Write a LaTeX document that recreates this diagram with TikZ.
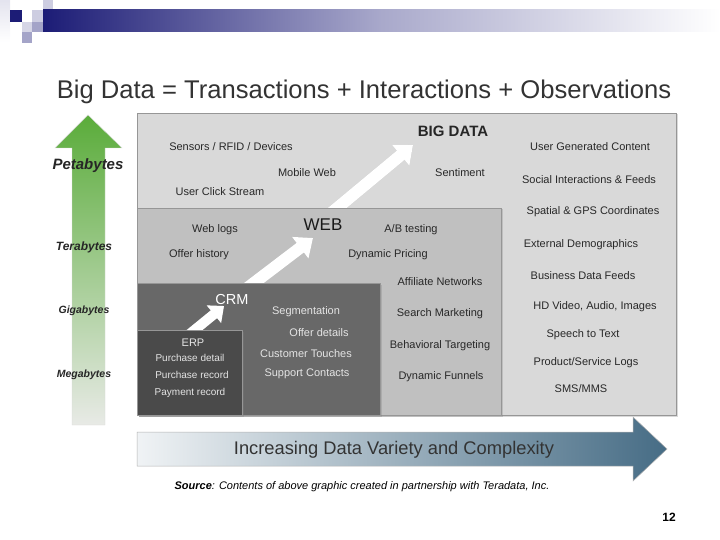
\documentclass[tikz,border=0pt]{standalone}
\usepackage{fontspec}
\setmainfont{Liberation Sans}
\usepackage{tikz}
\usetikzlibrary{arrows.meta, positioning, shadows}
\definecolor{bannerblue}{RGB}{28, 28, 118}
\definecolor{bigdata}{RGB}{217, 217, 217}
\definecolor{weblayer}{RGB}{192, 192, 192}
\definecolor{crmlayer}{RGB}{104, 104, 104}
\definecolor{erplayer}{RGB}{74, 74, 74}
\definecolor{boxedge}{RGB}{150, 150, 150}
\definecolor{darktext}{RGB}{40, 40, 40}
\definecolor{lighttext}{RGB}{228, 228, 228}
\definecolor{leafgreen}{RGB}{90, 172, 58}
\definecolor{palegray}{RGB}{232, 234, 230}
\definecolor{steelblue}{RGB}{70, 108, 133}
\definecolor{palesteel}{RGB}{240, 243, 245}

\begin{document}
\begin{tikzpicture}[
    x=1pt, y=-1pt,
    lbl/.style={font=\fontsize{11}{13}\selectfont, text=darktext, inner sep=0pt},
    lbllight/.style={lbl, text=lighttext},
    erplbl/.style={lbl, font=\fontsize{10}{12}\selectfont, text=lighttext},
    sizelbl/.style={font=\bfseries\itshape, text=black!85, inner sep=0pt},
    layer/.style={draw=boxedge, line width=0.6pt, drop shadow={opacity=0.3, shadow xshift=1.5pt, shadow yshift=-1.5pt}},
    uparrow/.style={white, line width=12pt, -{Triangle[width=26pt, length=16pt]}},
    upshadow/.style={black!40, opacity=0.4, line width=12pt, -{Triangle[width=26pt, length=16pt]}},
]
    \useasboundingbox (0,0) rectangle (720,540);
    % --- banner ---
    \shade[top color=bannerblue!12, bottom color=white] (0,0) rectangle (10,42);
    \fill[bannerblue] (10,10) rectangle (22,22);
    \fill[bannerblue!22] (32,10) rectangle (43,22);
    \fill[bannerblue!22] (43,0) rectangle (53,10);
    \fill[bannerblue!18] (22,22) rectangle (32,32);
    \fill[bannerblue!40] (32,22) rectangle (43,32);
    \fill[bannerblue!40] (22,32) rectangle (32,43);
    \shade[left color=bannerblue, right color=white, middle color=bannerblue!38] (43,10) rectangle (720,32);
    \node[font=\fontsize{25.6}{30}\selectfont, text=black!80] (title) at (364,92) {Big Data = Transactions + Interactions + Observations};

    % --- size arrow ---
    \shade[top color=leafgreen, bottom color=palegray, draw=black!15, line width=0.4pt]
        (72,425) -- (72,148) -- (55,148) -- (88,115) -- (122,148) -- (105,148) -- (105,425) -- cycle;
    \node[sizelbl, font=\fontsize{15}{18}\selectfont\bfseries\itshape] (peta) at (88,166) {Petabytes};
    \node[sizelbl, font=\fontsize{12}{14}\selectfont\bfseries\itshape] (tera) at (84,247) {Terabytes};
    \node[sizelbl, font=\fontsize{10.5}{12}\selectfont\bfseries\itshape] (giga) at (84,311) {Gigabytes};
    \node[sizelbl, font=\fontsize{10.5}{12}\selectfont\bfseries\itshape] (mega) at (84,375) {Megabytes};

    % --- layers ---
    \fill[bigdata, layer] (137,113) rectangle (676,415);
    \coordinate (webtail) at (330,214);
    \coordinate (bigtip) at (413,145);
    \draw[upshadow, shift={(1.5,1.5)}] (webtail) -- (bigtip);
    \draw[uparrow] (webtail) -- (bigtip);
    \fill[weblayer, layer] (137,208) rectangle (501,415);
    \coordinate (crmtail) at (246,289);
    \coordinate (webtip) at (313,238);
    \draw[upshadow, shift={(1.5,1.5)}] (crmtail) -- (webtip);
    \draw[uparrow] (crmtail) -- (webtip);
    \fill[crmlayer, layer] (137,283) rectangle (380,415);
    \coordinate (erptail) at (186,337);
    \coordinate (crmtip) at (224,306);
    \draw[upshadow, line width=10pt, -{Triangle[width=22pt, length=13pt]}, shift={(1.5,1.5)}] (erptail) -- (crmtip);
    \draw[uparrow, line width=10pt, -{Triangle[width=22pt, length=13pt]}] (erptail) -- (crmtip);
    \fill[erplayer, layer] (137,330) rectangle (242,415);

    % --- big data texts ---
    \node[lbl, font=\fontsize{15}{18}\selectfont\bfseries, text=black!85] (bigdatalbl) at (453,131) {BIG DATA};
    \node[lbl] (sensors) at (231,147) {Sensors / RFID / Devices};
    \node[lbl] (mobile) at (307,173) {Mobile Web};
    \node[lbl] (clicks) at (220,192) {User Click Stream};
    \node[lbl] (sentiment) at (460,173) {Sentiment};
    \node[lbl] (ugc) at (590,147) {User Generated Content};
    \node[lbl] (social) at (589,180) {Social Interactions \& Feeds};
    \node[lbl] (spatial) at (593,212) {Spatial \& GPS Coordinates};
    \node[lbl] (demog) at (581,245) {External Demographics};
    \node[lbl] (feeds) at (583,276) {Business Data Feeds};
    \node[lbl] (video) at (595,307) {HD Video, Audio, Images};
    \node[lbl] (speech) at (583,335) {Speech to Text};
    \node[lbl] (logs) at (586,363) {Product/Service Logs};
    \node[lbl] (sms) at (581,389) {SMS/MMS};

    % --- web texts ---
    \node[lbl, font=\fontsize{17}{20}\selectfont, text=black!90] (weblbl) at (323,225) {WEB};
    \node[lbl] (weblogs) at (215,230) {Web logs};
    \node[lbl] (offerhist) at (199,255) {Offer history};
    \node[lbl] (abtest) at (411,230) {A/B testing};
    \node[lbl] (pricing) at (388,255) {Dynamic Pricing};
    \node[lbl] (affiliate) at (440,282) {Affiliate Networks};
    \node[lbl] (search) at (440,314) {Search Marketing};
    \node[lbl] (behave) at (440,346) {Behavioral Targeting};
    \node[lbl] (funnels) at (441,377) {Dynamic Funnels};

    % --- crm texts ---
    \node[lbllight, font=\fontsize{14.5}{17}\selectfont, text=white] (crmlbl) at (232,300) {CRM};
    \node[lbllight] (segment) at (306,312) {Segmentation};
    \node[lbllight] (offerdet) at (319,333) {Offer details};
    \node[lbllight] (touches) at (306,354) {Customer Touches};
    \node[lbllight] (support) at (307,374) {Support Contacts};

    % --- erp texts ---
    \node[erplbl, font=\fontsize{11}{13}\selectfont] (erplbl) at (193,343) {ERP};
    \node[erplbl] (purdet) at (190,358) {Purchase detail};
    \node[erplbl] (purrec) at (192,375) {Purchase record};
    \node[erplbl] (payrec) at (190,393) {Payment record};

    % --- variety arrow ---
    \shade[left color=palesteel, right color=steelblue, draw=black!30, line width=0.5pt]
        (137,432) -- (633,432) -- (633,417) -- (667,449) -- (633,481) -- (633,466) -- (137,466) -- cycle;
    \node[font=\fontsize{18.3}{21}\selectfont, text=black!80] (variety) at (394,450) {Increasing Data Variety and Complexity};
    \node[font=\fontsize{11}{13}\selectfont\itshape] (source) at (362,487) {\textbf{Source}: Contents of above graphic created in partnership with Teradata, Inc.};
    \node[font=\fontsize{12}{14}\selectfont\bfseries] (pagenum) at (669,517) {12};
\end{tikzpicture}
\end{document}
